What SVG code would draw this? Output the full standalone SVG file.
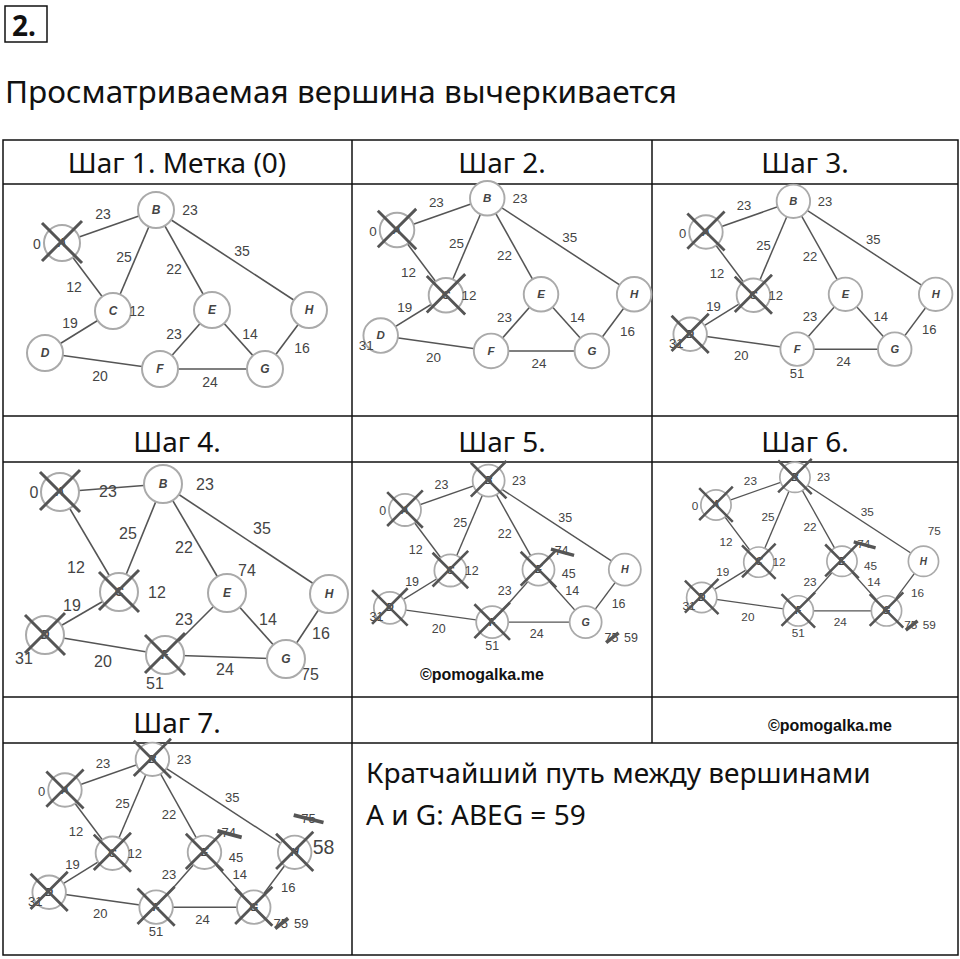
<svg xmlns="http://www.w3.org/2000/svg" width="960" height="959" viewBox="0 0 960 959">
<style>
.t{font-family:"Noto Sans","Open Sans",sans-serif;fill:#111}
.e{stroke:#555;stroke-width:1.6;fill:none}
.n{fill:#fff;stroke:#aaa;stroke-width:2}
.l{font-family:"Liberation Sans",sans-serif;font-style:italic;font-weight:bold;font-size:12px;fill:#444;text-anchor:middle}
.w{font-family:"Liberation Sans",sans-serif;font-size:14px;fill:#444;text-anchor:middle}
.x{stroke:#555;stroke-width:3;fill:none}
.s{stroke:#555;stroke-width:4}
.g{stroke:#111;stroke-width:1.5;fill:none}
.c{font-family:"Liberation Sans",sans-serif;font-weight:bold;font-size:16px;fill:#111}
</style>
<defs>
<g id="edges">
<line class="e" x1="62" y1="243" x2="156" y2="210"/><line class="e" x1="62" y1="243" x2="113" y2="311"/>
<line class="e" x1="156" y1="210" x2="113" y2="311"/><line class="e" x1="156" y1="210" x2="212" y2="310"/>
<line class="e" x1="156" y1="210" x2="309" y2="310"/><line class="e" x1="113" y1="311" x2="45" y2="353"/>
<line class="e" x1="45" y1="353" x2="160" y2="369"/><line class="e" x1="212" y1="310" x2="160" y2="369"/>
<line class="e" x1="212" y1="310" x2="265" y2="369"/><line class="e" x1="160" y1="369" x2="265" y2="369"/>
<line class="e" x1="265" y1="369" x2="309" y2="310"/>
<text class="w" x="103" y="219">23</text><text class="w" x="74" y="292">12</text><text class="w" x="124" y="262">25</text>
<text class="w" x="174" y="274">22</text><text class="w" x="242" y="256">35</text><text class="w" x="70" y="328">19</text>
<text class="w" x="100" y="381">20</text><text class="w" x="174" y="339">23</text><text class="w" x="250" y="339">14</text>
<text class="w" x="210" y="387">24</text><text class="w" x="302" y="353">16</text>
</g>
<g id="nodes">
<circle class="n" cx="62" cy="243" r="18"/><text class="l" x="62" y="247">A</text>
<circle class="n" cx="156" cy="210" r="18"/><text class="l" x="156" y="214">B</text>
<circle class="n" cx="113" cy="311" r="18"/><text class="l" x="113" y="315">C</text>
<circle class="n" cx="45" cy="353" r="18"/><text class="l" x="45" y="357">D</text>
<circle class="n" cx="212" cy="310" r="18"/><text class="l" x="212" y="314">E</text>
<circle class="n" cx="160" cy="369" r="18"/><text class="l" x="160" y="373">F</text>
<circle class="n" cx="265" cy="369" r="18"/><text class="l" x="265" y="373">G</text>
<circle class="n" cx="309" cy="310" r="18"/><text class="l" x="309" y="314">H</text>
</g>
<path id="xx" class="x" d="M-20,-20 L20,20 M20,-22 L-20,18"/>
</defs>
<rect x="5" y="6" width="42" height="36" class="g" stroke-width="2.5"/>
<text class="t" x="12" y="36" font-size="28" font-weight="bold">2.</text>
<text class="t" x="5" y="103" font-size="30" textLength="672" lengthAdjust="spacingAndGlyphs">Просматриваемая вершина вычеркивается</text>
<g id="table" class="g">
<rect x="3" y="140" width="955" height="815"/>
<line x1="3" y1="184" x2="958" y2="184"/><line x1="3" y1="416" x2="958" y2="416"/>
<line x1="3" y1="462" x2="958" y2="462"/><line x1="3" y1="697" x2="958" y2="697"/>
<line x1="3" y1="743" x2="958" y2="743"/>
<line x1="352" y1="140" x2="352" y2="955"/><line x1="652" y1="140" x2="652" y2="743"/>
</g>
<g class="t" font-size="28" text-anchor="middle">
<text x="177" y="173">Шаг 1. Метка (0)</text><text x="502" y="173">Шаг 2.</text><text x="805" y="173">Шаг 3.</text>
<text x="177" y="452">Шаг 4.</text><text x="502" y="452">Шаг 5.</text><text x="805" y="452">Шаг 6.</text>
<text x="177" y="733">Шаг 7.</text>
</g>
<text class="t" x="366" y="783" font-size="28">Кратчайший путь между вершинами</text>
<text class="t" x="366" y="825" font-size="28">A и G: ABEG = 59</text>
<text class="c" x="420" y="680">©pomogalka.me</text>
<text class="c" x="768" y="731">©pomogalka.me</text>

<g id="step1"><use href="#edges"/><g id="s1-nodes"><use href="#nodes"/></g>
<text class="w" x="37" y="249">0</text><text class="w" x="190" y="215">23</text><text class="w" x="137" y="316">12</text>
<use href="#xx" x="62" y="243"/></g>

<g id="step2" transform="translate(337.5,-3.3) scale(0.96)"><use href="#edges"/><g id="s2-nodes"><use href="#nodes"/></g>
<text class="w" x="37" y="249">0</text><text class="w" x="190" y="215">23</text><text class="w" x="137" y="316">12</text><text class="w" x="30" y="368">31</text>
<use href="#xx" x="62" y="243"/><use href="#xx" x="113" y="311"/></g>

<g id="step3" transform="translate(648.3,6) scale(0.93)"><use href="#edges"/><g id="s3-nodes"><use href="#nodes"/></g>
<text class="w" x="37" y="249">0</text><text class="w" x="190" y="215">23</text><text class="w" x="137" y="316">12</text><text class="w" x="30" y="368">31</text><text class="w" x="160" y="400">51</text>
<use href="#xx" x="62" y="243"/><use href="#xx" x="113" y="311"/><use href="#xx" x="45" y="353"/></g>

<g id="step4">
<g id="s4-edges">
<line class="e" x1="60" y1="492" x2="163" y2="484"/><line class="e" x1="60" y1="492" x2="119" y2="592"/>
<line class="e" x1="163" y1="484" x2="119" y2="592"/><line class="e" x1="163" y1="484" x2="227" y2="593"/>
<line class="e" x1="163" y1="484" x2="329" y2="594"/><line class="e" x1="119" y1="592" x2="45" y2="635"/>
<line class="e" x1="45" y1="635" x2="165" y2="655"/><line class="e" x1="227" y1="593" x2="165" y2="655"/>
<line class="e" x1="227" y1="593" x2="286" y2="659"/><line class="e" x1="165" y1="655" x2="286" y2="659"/>
<line class="e" x1="286" y1="659" x2="329" y2="594"/>
</g>
<g>
<text class="w" style="font-size:16px" x="108" y="497">23</text><text class="w" style="font-size:16px" x="76" y="573">12</text>
<text class="w" style="font-size:16px" x="128" y="539">25</text><text class="w" style="font-size:16px" x="184" y="553">22</text>
<text class="w" style="font-size:16px" x="262" y="534">35</text><text class="w" style="font-size:16px" x="72" y="611">19</text>
<text class="w" style="font-size:16px" x="103" y="667">20</text><text class="w" style="font-size:16px" x="184" y="625">23</text>
<text class="w" style="font-size:16px" x="268" y="625">14</text><text class="w" style="font-size:16px" x="225" y="675">24</text>
<text class="w" style="font-size:16px" x="321" y="639">16</text>
<text class="w" style="font-size:16px" x="34" y="498">0</text><text class="w" style="font-size:16px" x="205" y="490">23</text>
<text class="w" style="font-size:16px" x="157" y="598">12</text><text class="w" style="font-size:16px" x="24" y="664">31</text>
<text class="w" style="font-size:16px" x="155" y="689">51</text><text class="w" style="font-size:16px" x="247" y="576">74</text>
<text class="w" style="font-size:16px" x="310" y="680">75</text>
</g>
<g id="s4-nodes">
<circle class="n" cx="60" cy="492" r="19"/><text class="l" x="60" y="496">A</text>
<circle class="n" cx="163" cy="484" r="19"/><text class="l" x="163" y="488">B</text>
<circle class="n" cx="119" cy="592" r="19"/><text class="l" x="119" y="596">C</text>
<circle class="n" cx="45" cy="635" r="19"/><text class="l" x="45" y="639">D</text>
<circle class="n" cx="227" cy="593" r="19"/><text class="l" x="227" y="597">E</text>
<circle class="n" cx="165" cy="655" r="19"/><text class="l" x="165" y="659">F</text>
<circle class="n" cx="286" cy="659" r="19"/><text class="l" x="286" y="663">G</text>
<circle class="n" cx="329" cy="594" r="19"/><text class="l" x="329" y="598">H</text>
</g>
<use href="#xx" x="60" y="492"/><use href="#xx" x="119" y="592"/><use href="#xx" x="45" y="635"/><use href="#xx" x="165" y="655"/>
</g>

<g id="step5" transform="translate(349.8,293.7) scale(0.89)"><use href="#edges"/><g id="s5-nodes"><use href="#nodes"/></g>
<text class="w" x="37" y="249">0</text><text class="w" x="190" y="215">23</text><text class="w" x="137" y="316">12</text><text class="w" x="30" y="368">31</text><text class="w" x="160" y="400">51</text>
<text class="w" x="238" y="294">74</text><line class="s" x1="226" y1="287" x2="252" y2="294"/><text class="w" x="246" y="320">45</text>
<text class="w" x="294" y="391">75</text><line class="s" x1="288" y1="392" x2="302" y2="381"/><text class="w" x="316" y="391">59</text>
<use href="#xx" x="62" y="243"/><use href="#xx" x="113" y="311"/><use href="#xx" x="45" y="353"/><use href="#xx" x="160" y="369"/><use href="#xx" x="156" y="210"/><use href="#xx" x="212" y="310"/></g>

<g id="step6" transform="translate(663.9,300.9) scale(0.84)"><use href="#edges"/><g id="s6-nodes"><use href="#nodes"/></g>
<text class="w" x="37" y="249">0</text><text class="w" x="190" y="215">23</text><text class="w" x="137" y="316">12</text><text class="w" x="30" y="368">31</text><text class="w" x="160" y="400">51</text>
<text class="w" x="238" y="294">74</text><line class="s" x1="226" y1="287" x2="252" y2="294"/><text class="w" x="246" y="320">45</text>
<text class="w" x="294" y="391">75</text><line class="s" x1="288" y1="392" x2="302" y2="381"/><text class="w" x="316" y="391">59</text>
<text class="w" x="322" y="279">75</text>
<use href="#xx" x="62" y="243"/><use href="#xx" x="113" y="311"/><use href="#xx" x="45" y="353"/><use href="#xx" x="160" y="369"/><use href="#xx" x="156" y="210"/><use href="#xx" x="212" y="310"/><use href="#xx" x="265" y="369"/></g>

<g id="step7" transform="translate(7.3,564) scale(0.93)"><use href="#edges"/><g id="s7-nodes"><use href="#nodes"/></g>
<text class="w" x="37" y="249">0</text><text class="w" x="190" y="215">23</text><text class="w" x="137" y="316">12</text><text class="w" x="30" y="368">31</text><text class="w" x="160" y="400">51</text>
<text class="w" x="238" y="294">74</text><line class="s" x1="226" y1="287" x2="252" y2="294"/><text class="w" x="246" y="320">45</text>
<text class="w" x="294" y="391">75</text><line class="s" x1="288" y1="392" x2="302" y2="381"/><text class="w" x="316" y="391">59</text>
<text class="w" x="324" y="278">75</text><line class="s" x1="308" y1="270" x2="340" y2="278"/>
<text class="w" style="font-size:21px" x="340" y="312">58</text>
<use href="#xx" x="62" y="243"/><use href="#xx" x="113" y="311"/><use href="#xx" x="45" y="353"/><use href="#xx" x="160" y="369"/><use href="#xx" x="156" y="210"/><use href="#xx" x="212" y="310"/><use href="#xx" x="265" y="369"/><use href="#xx" x="309" y="310"/></g>
</svg>
